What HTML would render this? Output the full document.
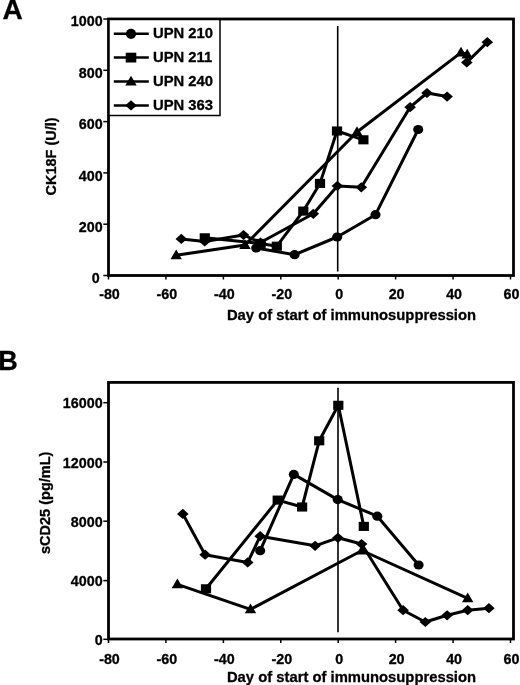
<!DOCTYPE html>
<html><head><meta charset="utf-8"><style>
html,body{margin:0;padding:0;background:#fff;}
body{width:520px;height:685px;overflow:hidden;}
svg{display:block;will-change:transform;}
text{font-family:"Liberation Sans",sans-serif;font-weight:bold;fill:#000;stroke:#000;stroke-width:0.3px;}
.tk{font-size:14.3px;}
.tt{font-size:14.8px;}
.ty{font-size:14.5px;}
</style></head><body>
<svg width="520" height="685" viewBox="0 0 520 685">
<rect x="108.5" y="19" width="405" height="256.5" fill="none" stroke="#000" stroke-width="2.8"/>
<line x1="103.3" y1="275.5" x2="108.5" y2="275.5" stroke="#000" stroke-width="1.5"/>
<text x="99.6" y="283.3" text-anchor="end" class="tk">0</text>
<line x1="103.3" y1="224.2" x2="108.5" y2="224.2" stroke="#000" stroke-width="1.5"/>
<text x="102.6" y="232.0" text-anchor="end" class="tk">200</text>
<line x1="103.3" y1="172.9" x2="108.5" y2="172.9" stroke="#000" stroke-width="1.5"/>
<text x="102.6" y="180.7" text-anchor="end" class="tk">400</text>
<line x1="103.3" y1="121.6" x2="108.5" y2="121.6" stroke="#000" stroke-width="1.5"/>
<text x="102.6" y="129.4" text-anchor="end" class="tk">600</text>
<line x1="103.3" y1="70.3" x2="108.5" y2="70.3" stroke="#000" stroke-width="1.5"/>
<text x="102.6" y="78.1" text-anchor="end" class="tk">800</text>
<line x1="103.3" y1="19" x2="108.5" y2="19" stroke="#000" stroke-width="1.5"/>
<text x="102.6" y="25.8" text-anchor="end" class="tk">1000</text>
<line x1="108.5" y1="275.5" x2="108.5" y2="279.5" stroke="#000" stroke-width="1.5"/>
<text x="109.5" y="298.5" text-anchor="middle" class="tk">-80</text>
<line x1="165.9" y1="275.5" x2="165.9" y2="279.5" stroke="#000" stroke-width="1.5"/>
<text x="166.9" y="298.5" text-anchor="middle" class="tk">-60</text>
<line x1="223.4" y1="275.5" x2="223.4" y2="279.5" stroke="#000" stroke-width="1.5"/>
<text x="224.4" y="298.5" text-anchor="middle" class="tk">-40</text>
<line x1="280.8" y1="275.5" x2="280.8" y2="279.5" stroke="#000" stroke-width="1.5"/>
<text x="281.8" y="298.5" text-anchor="middle" class="tk">-20</text>
<line x1="338.2" y1="275.5" x2="338.2" y2="279.5" stroke="#000" stroke-width="1.5"/>
<text x="339.2" y="298.5" text-anchor="middle" class="tk">0</text>
<line x1="395.6" y1="275.5" x2="395.6" y2="279.5" stroke="#000" stroke-width="1.5"/>
<text x="396.6" y="298.5" text-anchor="middle" class="tk">20</text>
<line x1="453.1" y1="275.5" x2="453.1" y2="279.5" stroke="#000" stroke-width="1.5"/>
<text x="454.1" y="298.5" text-anchor="middle" class="tk">40</text>
<line x1="510.5" y1="275.5" x2="510.5" y2="279.5" stroke="#000" stroke-width="1.5"/>
<text x="511.5" y="298.5" text-anchor="middle" class="tk">60</text>
<text x="351.5" y="320.2" text-anchor="middle" class="tt">Day of start of immunosuppression</text>
<line x1="337.7" y1="26" x2="337.7" y2="271.5" stroke="#000" stroke-width="1.6"/>
<rect x="108.5" y="382.4" width="405" height="256.6" fill="none" stroke="#000" stroke-width="2.8"/>
<line x1="103.3" y1="639.3" x2="108.5" y2="639.3" stroke="#000" stroke-width="1.5"/>
<text x="102.6" y="644.9" text-anchor="end" class="tk">0</text>
<line x1="103.3" y1="580.6" x2="108.5" y2="580.6" stroke="#000" stroke-width="1.5"/>
<text x="102.6" y="586.2" text-anchor="end" class="tk">4000</text>
<line x1="103.3" y1="521.2" x2="108.5" y2="521.2" stroke="#000" stroke-width="1.5"/>
<text x="102.6" y="526.8" text-anchor="end" class="tk">8000</text>
<line x1="103.3" y1="462" x2="108.5" y2="462" stroke="#000" stroke-width="1.5"/>
<text x="102.6" y="467.6" text-anchor="end" class="tk">12000</text>
<line x1="103.3" y1="402.7" x2="108.5" y2="402.7" stroke="#000" stroke-width="1.5"/>
<text x="102.6" y="408.3" text-anchor="end" class="tk">16000</text>
<line x1="108.5" y1="639" x2="108.5" y2="643" stroke="#000" stroke-width="1.5"/>
<text x="109.5" y="663.5" text-anchor="middle" class="tk">-80</text>
<line x1="165.9" y1="639" x2="165.9" y2="643" stroke="#000" stroke-width="1.5"/>
<text x="166.9" y="663.5" text-anchor="middle" class="tk">-60</text>
<line x1="223.4" y1="639" x2="223.4" y2="643" stroke="#000" stroke-width="1.5"/>
<text x="224.4" y="663.5" text-anchor="middle" class="tk">-40</text>
<line x1="280.8" y1="639" x2="280.8" y2="643" stroke="#000" stroke-width="1.5"/>
<text x="281.8" y="663.5" text-anchor="middle" class="tk">-20</text>
<line x1="338.2" y1="639" x2="338.2" y2="643" stroke="#000" stroke-width="1.5"/>
<text x="339.2" y="663.5" text-anchor="middle" class="tk">0</text>
<line x1="395.6" y1="639" x2="395.6" y2="643" stroke="#000" stroke-width="1.5"/>
<text x="396.6" y="663.5" text-anchor="middle" class="tk">20</text>
<line x1="453.1" y1="639" x2="453.1" y2="643" stroke="#000" stroke-width="1.5"/>
<text x="454.1" y="663.5" text-anchor="middle" class="tk">40</text>
<line x1="510.5" y1="639" x2="510.5" y2="643" stroke="#000" stroke-width="1.5"/>
<text x="511.5" y="663.5" text-anchor="middle" class="tk">60</text>
<text x="351.5" y="682.2" text-anchor="middle" class="tt">Day of start of immunosuppression</text>
<line x1="338" y1="387.7" x2="338" y2="632.3" stroke="#000" stroke-width="1.6"/>
<rect x="109" y="19.5" width="111" height="96" fill="#fff" stroke="#000" stroke-width="1.5"/>
<line x1="113.8" y1="33.8" x2="148.8" y2="33.8" stroke="#000" stroke-width="2.5"/>
<circle cx="131" cy="33.8" r="5.1"/>
<text x="153" y="38.3" class="tt">UPN 210</text>
<line x1="113.8" y1="57.6" x2="148.8" y2="57.6" stroke="#000" stroke-width="2.5"/>
<rect x="125.7" y="52.70" width="10.6" height="9.8"/>
<text x="153" y="62.1" class="tt">UPN 211</text>
<line x1="113.8" y1="81.6" x2="148.8" y2="81.6" stroke="#000" stroke-width="2.5"/>
<polygon points="131.00,75.80 125.30,85.50 136.70,85.50"/>
<text x="153" y="86.1" class="tt">UPN 240</text>
<line x1="113.8" y1="105.4" x2="148.8" y2="105.4" stroke="#000" stroke-width="2.5"/>
<polygon points="131.00,100.30 136.80,105.40 131.00,110.50 125.20,105.40"/>
<text x="153" y="109.9" class="tt">UPN 363</text>
<polyline points="176.2,255.3 245,245 357,132 461,52.6 467.2,54.5" fill="none" stroke="#000" stroke-width="3.0" stroke-linejoin="round"/><polygon points="176.20,249.50 170.50,259.20 181.90,259.20"/><polygon points="245.00,239.20 239.30,248.90 250.70,248.90"/><polygon points="357.00,126.20 351.30,135.90 362.70,135.90"/><polygon points="461.00,46.80 455.30,56.50 466.70,56.50"/><polygon points="467.20,48.70 461.50,58.40 472.90,58.40"/>
<polyline points="181.3,238.9 204.7,241.5 243.5,235 260.5,242.5 313.3,213.8 337.4,185.9 361.3,187.3 410.1,107.2 427,93 447.1,96.6" fill="none" stroke="#000" stroke-width="3.0" stroke-linejoin="round"/><polygon points="181.30,233.80 187.10,238.90 181.30,244.00 175.50,238.90"/><polygon points="204.70,236.40 210.50,241.50 204.70,246.60 198.90,241.50"/><polygon points="243.50,229.90 249.30,235.00 243.50,240.10 237.70,235.00"/><polygon points="260.50,237.40 266.30,242.50 260.50,247.60 254.70,242.50"/><polygon points="313.30,208.70 319.10,213.80 313.30,218.90 307.50,213.80"/><polygon points="337.40,180.80 343.20,185.90 337.40,191.00 331.60,185.90"/><polygon points="361.30,182.20 367.10,187.30 361.30,192.40 355.50,187.30"/><polygon points="410.10,102.10 415.90,107.20 410.10,112.30 404.30,107.20"/><polygon points="427.00,87.90 432.80,93.00 427.00,98.10 421.20,93.00"/><polygon points="447.10,91.50 452.90,96.60 447.10,101.70 441.30,96.60"/>
<polyline points="466.8,62.4 487.3,42.2" fill="none" stroke="#000" stroke-width="3.0" stroke-linejoin="round"/><polygon points="466.80,57.30 472.60,62.40 466.80,67.50 461.00,62.40"/><polygon points="487.30,37.10 493.10,42.20 487.30,47.30 481.50,42.20"/>
<polyline points="204.8,237.8 260.6,243.4 276.8,246.2 303.3,211.1 320,183.4 337,131 363.4,139.8" fill="none" stroke="#000" stroke-width="3.0" stroke-linejoin="round"/><rect x="199.70" y="233.25" width="10.2" height="9.1"/><rect x="255.50" y="238.85" width="10.2" height="9.1"/><rect x="271.70" y="241.65" width="10.2" height="9.1"/><rect x="298.20" y="206.55" width="10.2" height="9.1"/><rect x="314.90" y="178.85" width="10.2" height="9.1"/><rect x="331.90" y="126.45" width="10.2" height="9.1"/><rect x="358.30" y="135.25" width="10.2" height="9.1"/>
<polyline points="256.2,248 294.6,254.7 337.2,237 375.5,214.7 418.2,129.5" fill="none" stroke="#000" stroke-width="3.0" stroke-linejoin="round"/><ellipse cx="256.2" cy="248" rx="5.05" ry="4.6"/><ellipse cx="294.6" cy="254.7" rx="5.05" ry="4.6"/><ellipse cx="337.2" cy="237" rx="5.05" ry="4.6"/><ellipse cx="375.5" cy="214.7" rx="5.05" ry="4.6"/><ellipse cx="418.2" cy="129.5" rx="5.05" ry="4.6"/>
<polyline points="177.4,584.4 250.5,609.3 362,550.5 467.7,598.3" fill="none" stroke="#000" stroke-width="3.0" stroke-linejoin="round"/><polygon points="177.40,578.60 171.70,588.30 183.10,588.30"/><polygon points="250.50,603.50 244.80,613.20 256.20,613.20"/><polygon points="362.00,544.70 356.30,554.40 367.70,554.40"/><polygon points="467.70,592.50 462.00,602.20 473.40,602.20"/>
<polyline points="182.8,513.9 205.1,554.7 247.7,562.4 260.2,536.2 315.1,545.8 337.9,537.8 361.6,544 403.1,610.2 425.3,622 447.1,615.3 467.7,610.2 488.9,608.2" fill="none" stroke="#000" stroke-width="3.0" stroke-linejoin="round"/><polygon points="182.80,508.80 188.60,513.90 182.80,519.00 177.00,513.90"/><polygon points="205.10,549.60 210.90,554.70 205.10,559.80 199.30,554.70"/><polygon points="247.70,557.30 253.50,562.40 247.70,567.50 241.90,562.40"/><polygon points="260.20,531.10 266.00,536.20 260.20,541.30 254.40,536.20"/><polygon points="315.10,540.70 320.90,545.80 315.10,550.90 309.30,545.80"/><polygon points="337.90,532.70 343.70,537.80 337.90,542.90 332.10,537.80"/><polygon points="361.60,538.90 367.40,544.00 361.60,549.10 355.80,544.00"/><polygon points="403.10,605.10 408.90,610.20 403.10,615.30 397.30,610.20"/><polygon points="425.30,616.90 431.10,622.00 425.30,627.10 419.50,622.00"/><polygon points="447.10,610.20 452.90,615.30 447.10,620.40 441.30,615.30"/><polygon points="467.70,605.10 473.50,610.20 467.70,615.30 461.90,610.20"/><polygon points="488.90,603.10 494.70,608.20 488.90,613.30 483.10,608.20"/>
<polyline points="206,588.8 277.7,500.1 302.1,507 319.2,440.8 338.3,405.3 363.8,526.4" fill="none" stroke="#000" stroke-width="3.0" stroke-linejoin="round"/><rect x="200.90" y="584.25" width="10.2" height="9.1"/><rect x="272.60" y="495.55" width="10.2" height="9.1"/><rect x="297.00" y="502.45" width="10.2" height="9.1"/><rect x="314.10" y="436.25" width="10.2" height="9.1"/><rect x="333.20" y="400.75" width="10.2" height="9.1"/><rect x="358.70" y="521.85" width="10.2" height="9.1"/>
<polyline points="260.2,550.7 293.8,474.4 337.7,499.6 377.3,516.2 418.6,565" fill="none" stroke="#000" stroke-width="3.0" stroke-linejoin="round"/><ellipse cx="260.2" cy="550.7" rx="5.05" ry="4.6"/><ellipse cx="293.8" cy="474.4" rx="5.05" ry="4.6"/><ellipse cx="337.7" cy="499.6" rx="5.05" ry="4.6"/><ellipse cx="377.3" cy="516.2" rx="5.05" ry="4.6"/><ellipse cx="418.6" cy="565" rx="5.05" ry="4.6"/>
<text transform="translate(56.4,156.4) rotate(-90)" text-anchor="middle" class="ty">CK18F (U/l)</text>
<text transform="translate(50.4,502.8) rotate(-90)" text-anchor="middle" class="ty">sCD25 (pg/mL)</text>
<text x="2.4" y="19.2" class="pl" style="font-size:28px">A</text>
<text x="-1.8" y="369.7" class="pl" style="font-size:27px">B</text>
</svg>
</body></html>
